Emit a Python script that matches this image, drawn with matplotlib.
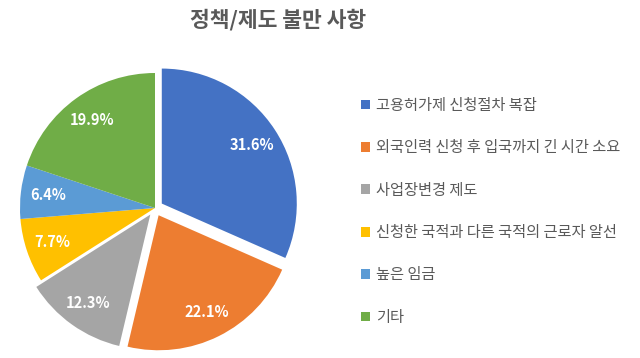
import matplotlib
matplotlib.use("Agg")
import matplotlib.pyplot as plt

plt.rcParams['font.family'] = ['Noto Sans CJK KR', 'DejaVu Sans']

title = "정책/제도 불만 사항"
categories = [
    "고용허가제 신청절차 복잡",
    "외국인력 신청 후 입국까지 긴 시간 소요",
    "사업장변경 제도",
    "신청한 국적과 다른 국적의 근로자 알선",
    "높은 임금",
    "기타",
]
values = [31.6, 22.1, 12.3, 7.7, 6.4, 19.9]
colors = ["#4472C4", "#ED7D31", "#A5A5A5", "#FFC000", "#5B9BD5", "#70AD47"]
explode = [0.06, 0.06, 0.06, 0, 0, 0]

W, H = 640, 358
fig = plt.figure(figsize=(W / 100, H / 100), dpi=100)

# pie axes: center at (155, 208) px, radius 135 px
cx, cy, r, half = 155, 208, 135, 150
ax = fig.add_axes([(cx - half) / W, (H - cy - half) / H, 2 * half / W, 2 * half / H])
wedges, texts, autotexts = ax.pie(
    values, colors=colors, explode=explode, startangle=90, counterclock=False,
    autopct=lambda p: f"{p:.1f}%", pctdistance=0.8,
    wedgeprops=dict(linewidth=0),
    textprops=dict(color="white", fontsize=10.5, fontweight="bold"),
)
lim = half / r
ax.set_xlim(-lim, lim)
ax.set_ylim(-lim, lim)
ax.set_aspect('equal', adjustable='box')
ax.axis('off')

fig.text(278.5 / W, 1 - 19.5 / H, title, ha='center', va='center',
         fontsize=15.5, fontweight='bold', color='#595959')

leg = fig.legend(
    wedges, categories, loc='upper left', bbox_to_anchor=(361 / W, 1 - 97 / H),
    frameon=False, fontsize=11, labelcolor='#595959',
    handlelength=0.6, handleheight=0.6, handletextpad=0.4,
    labelspacing=1.66, borderpad=0, borderaxespad=0,
)

fig.savefig("out.png", dpi=100, facecolor="white")
